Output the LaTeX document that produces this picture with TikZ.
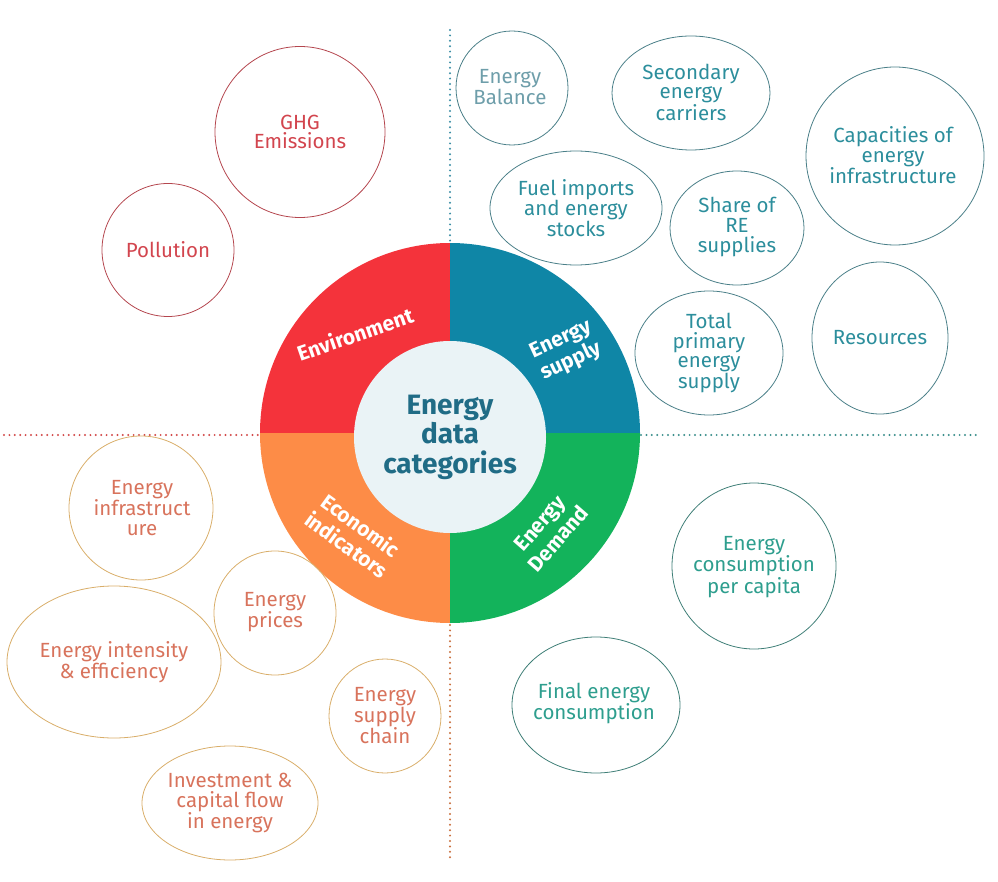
\documentclass[tikz,border=0pt]{standalone}
\usepackage{fontspec}
\setmainfont{Fira Sans}
\usetikzlibrary{shapes.geometric}
\definecolor{wred}{HTML}{F4333B}
\definecolor{wteal}{HTML}{0F86A6}
\definecolor{wgreen}{HTML}{13B35B}
\definecolor{worange}{HTML}{FD8C47}
\definecolor{cfill}{HTML}{EAF3F6}
\definecolor{ctext}{HTML}{206C86}
\definecolor{envtext}{HTML}{D2454E}
\definecolor{envline}{HTML}{B4464E}
\definecolor{suptext}{HTML}{2C8E9C}
\definecolor{supline}{HTML}{4A7F88}
\definecolor{baltext}{HTML}{6E9EAA}
\definecolor{ecotext}{HTML}{D8735C}
\definecolor{ecoline}{HTML}{D9AE6A}
\definecolor{demtext}{HTML}{2E9E8E}
\definecolor{demline}{HTML}{3E7E76}
\definecolor{dotred}{HTML}{D24A4A}
\definecolor{dotteal}{HTML}{3B8EA5}
\definecolor{dotgreen}{HTML}{3C8F8C}
\definecolor{dotorange}{HTML}{C9703E}
\begin{document}
\begin{tikzpicture}[x=1pt,y=1pt,
  bub/.style={ellipse, draw, line width=0.8pt, inner sep=0pt},
  btxt/.style={font=\fontsize{20.5}{19.7}\selectfont, align=center, inner sep=0pt},
  wlab/.style={font=\bfseries\fontsize{21}{24}\selectfont, text=white, align=center, inner sep=0pt},
  dotline/.style={line width=2.2pt, line cap=round, dash pattern=on 0pt off 5.4pt}]
\useasboundingbox (0,0) rectangle (998,-882);

% dotted separators
\coordinate (vt1) at (450,-30);  \coordinate (vt2) at (450,-243);
\coordinate (hl1) at (4,-435);   \coordinate (hl2) at (261,-435);
\coordinate (hr1) at (641,-435); \coordinate (hr2) at (976,-435);
\coordinate (vb1) at (450,-625); \coordinate (vb2) at (450,-860);
\draw[dotline, dotteal] (vt1) -- (vt2);
\draw[dotline, dotred] (hl1) -- (hl2);
\draw[dotline, dotgreen] (hr1) -- (hr2);
\draw[dotline, dotorange] (vb1) -- (vb2);

% donut
\coordinate (C) at (450,-433);
\fill[wred] (C) -- ++(90:190) arc[start angle=90, end angle=180, radius=190pt] -- cycle;
\fill[wteal] (C) -- ++(0:190) arc[start angle=0, end angle=90, radius=190pt] -- cycle;
\fill[worange] (C) -- ++(180:190) arc[start angle=180, end angle=270, radius=190pt] -- cycle;
\fill[wgreen] (C) -- ++(270:190) arc[start angle=270, end angle=360, radius=190pt] -- cycle;
\node[circle, fill=cfill, minimum size=192pt, inner sep=0pt, text=ctext, align=center,
  font=\bfseries\fontsize{28}{29.5}\selectfont] (core) at (450,-437) {Energy\\data\\categories};

\node[wlab, rotate=19] (lenv) at (355,-334) {Environment};
\node[wlab, rotate=25] (lsup) at (566,-351) {Energy\\supply};
\node[wlab, rotate=-36] (leco) at (354,-535) {Economic\\indicators};
\node[wlab, rotate=49] (ldem) at (549,-531) {Energy\\Demand};

% environment bubbles
\node[bub, envline, minimum width=170pt, minimum height=171pt] (ghg) at (300,-132) {};
\node[btxt, envtext] (ghgt) at (ghg) {GHG\\Emissions};
\node[bub, envline, minimum width=132pt, minimum height=133pt] (pol) at (168,-250) {};
\node[btxt, envtext] (polt) at (pol) {Pollution};

% supply bubbles
\node[bub, supline, minimum width=112pt, minimum height=114pt] (bal) at (512,-88) {};
\node[btxt, baltext] (balt) at (510,-87) {Energy\\Balance};
\node[bub, supline, minimum width=158pt, minimum height=114pt] (sec) at (691,-93) {};
\node[btxt, suptext] (sect) at (691,-92) {Secondary\\energy\\carriers};
\node[bub, supline, minimum width=178pt, minimum height=178pt] (cap) at (895,-156) {};
\node[btxt, suptext] (capt) at (893,-155) {Capacities of\\energy\\infrastructure};
\node[bub, supline, minimum width=172pt, minimum height=114pt] (fuel) at (576,-208) {};
\node[btxt, suptext] (fuelt) at (576,-208) {Fuel imports\\and energy\\stocks};
\node[bub, supline, minimum width=134pt, minimum height=114pt] (share) at (737,-228) {};
\node[btxt, suptext] (sharet) at (737,-227) {Share of\\RE\\supplies};
\node[bub, supline, minimum width=148pt, minimum height=124pt] (tpes) at (709,-353) {};
\node[btxt, suptext] (tpest) at (709,-353) {Total\\primary\\energy\\supply};
\node[bub, supline, minimum width=136pt, minimum height=152pt] (res) at (880,-338) {};
\node[btxt, suptext] (rest) at (880,-338) {Resources};

% demand bubbles
\node[bub, demline, minimum width=164pt, minimum height=166pt] (cpc) at (754,-566) {};
\node[btxt, demtext] (cpct) at (754,-567) {Energy\\consumption\\per capita};
\node[bub, demline, minimum width=168pt, minimum height=136pt] (fec) at (596,-705) {};
\node[btxt, demtext] (fect) at (594,-703) {Final energy\\consumption};

% economic bubbles
\node[bub, ecoline, minimum width=144pt, minimum height=144pt] (inf) at (141,-508) {};
\node[btxt, ecotext] (inft) at (142,-508) {Energy\\infrastruct\\ure};
\node[bub, ecoline, minimum width=122pt, minimum height=124pt] (pri) at (275,-613) {};
\node[btxt, ecotext] (prit) at (275,-612) {Energy\\prices};
\node[bub, ecoline, minimum width=214pt, minimum height=152pt] (int) at (114,-662) {};
\node[btxt, ecotext] (intt) at (114,-662) {Energy intensity\\\& efficiency};
\node[bub, ecoline, minimum width=112pt, minimum height=114pt] (chain) at (385,-716) {};
\node[btxt, ecotext] (chaint) at (385,-716) {Energy\\supply\\chain};
\node[bub, ecoline, minimum width=176pt, minimum height=114pt] (inv) at (230,-803) {};
\node[btxt, ecotext] (invt) at (230,-803) {Investment \&\\capital flow\\in energy};
\end{tikzpicture}
\end{document}
